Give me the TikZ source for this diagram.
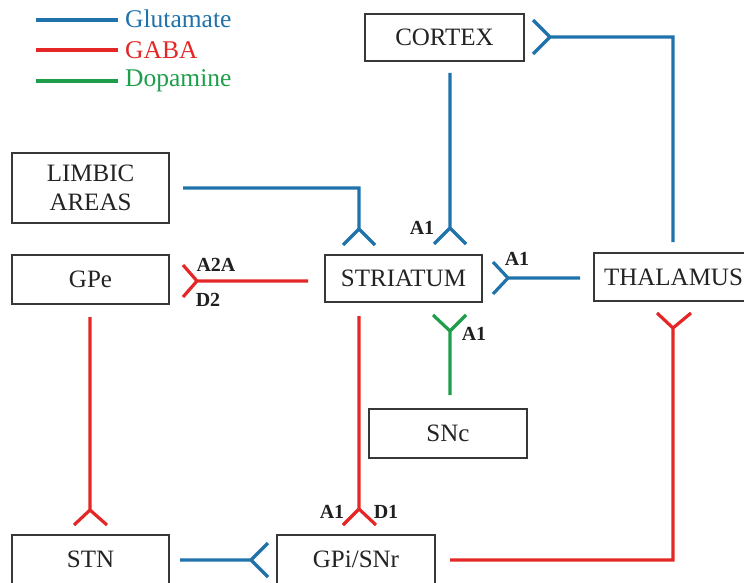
\documentclass[tikz,border=0pt]{standalone}
\usepackage{fontspec}
\setmainfont{Liberation Serif}
\definecolor{glu}{RGB}{31,114,170}
\definecolor{gaba}{RGB}{228,38,38}
\definecolor{dopa}{RGB}{30,158,75}
\definecolor{boxline}{RGB}{55,55,55}
\definecolor{boxtext}{RGB}{35,35,35}
\begin{document}
\begin{tikzpicture}[x=1pt,y=-1pt,
  region/.style={draw=boxline, line width=1.6pt, fill=white, text=boxtext,
    font=\fontsize{25}{29}\selectfont, inner sep=0pt, align=center},
  gluline/.style={draw=glu, line width=3.2pt},
  gabaline/.style={draw=gaba, line width=3.2pt},
  dopaline/.style={draw=dopa, line width=3.2pt},
  lab/.style={font=\fontsize{20}{22}\selectfont\bfseries, text=black!88, inner sep=0pt},
  legtext/.style={font=\fontsize{25.5}{28}\selectfont, inner sep=0pt, anchor=west}
]
\useasboundingbox (0,0) rectangle (744,583);
\clip (0,0) rectangle (744,583);

% legend
\coordinate (lg1a) at (36,20); \coordinate (lg1b) at (118,20);
\coordinate (lg2a) at (36,50); \coordinate (lg2b) at (118,50);
\coordinate (lg3a) at (36,81); \coordinate (lg3b) at (118,81);
\draw[gluline] (lg1a) -- (lg1b);
\draw[gabaline] (lg2a) -- (lg2b);
\draw[dopaline] (lg3a) -- (lg3b);
\node[legtext, text=glu] (lgt1) at (125,19) {Glutamate};
\node[legtext, text=gaba] (lgt2) at (125,50) {GABA};
\node[legtext, text=dopa] (lgt3) at (125,81) {Dopamine};

% boxes
\node[region, minimum width=159pt, minimum height=47pt] (cortex) at (444.5,37.5) {CORTEX};
\node[region, minimum width=157pt, minimum height=70pt] (limbic) at (90.5,188) {LIMBIC\\AREAS};
\node[region, minimum width=157pt, minimum height=49pt] (gpe) at (90.5,279.5) {GPe};
\node[region, minimum width=157pt, minimum height=47pt] (str) at (403.5,278.5) {STRIATUM};
\node[region, minimum width=159pt, minimum height=48pt] (thal) at (673.5,277) {THALAMUS};
\node[region, minimum width=158pt, minimum height=49pt] (snc) at (448,433.5) {SNc};
\node[region, minimum width=157pt, minimum height=49pt] (stn) at (90.5,559.5) {STN};
\node[region, minimum width=158pt, minimum height=49pt] (gpi) at (356,559.5) {GPi/SNr};

% Thalamus -> Cortex
\coordinate (tcS) at (673,242); \coordinate (tcV) at (550,37);
\draw[gluline] (tcS) |- (tcV) -- ++(-17,-17) (tcV) -- ++(-17,17);
% Cortex -> Striatum
\coordinate (csS) at (450,73); \coordinate (csV) at (450,228);
\draw[gluline] (csS) -- (csV) -- ++(-16,16) (csV) -- ++(16,16);
% Limbic -> Striatum
\coordinate (lsS) at (183,188); \coordinate (lsV) at (359,229);
\draw[gluline] (lsS) -| (lsV) -- ++(-16,16) (lsV) -- ++(16,16);
% Thalamus -> Striatum
\coordinate (tsS) at (580,278); \coordinate (tsV) at (508,278);
\draw[gluline] (tsS) -- (tsV) -- ++(-15,-16) (tsV) -- ++(-15,16);
% Striatum -> GPe
\coordinate (sgS) at (308,281); \coordinate (sgV) at (197,281);
\draw[gabaline] (sgS) -- (sgV) -- ++(-14,-16) (sgV) -- ++(-14,16);
% SNc -> Striatum
\coordinate (nsS) at (450,395); \coordinate (nsV) at (450,331);
\draw[dopaline] (nsS) -- (nsV) -- ++(-17,-16) (nsV) -- ++(16,-16);
% GPe -> STN
\coordinate (gsS) at (90,317); \coordinate (gsV) at (90,510);
\draw[gabaline] (gsS) -- (gsV) -- ++(-16,15) (gsV) -- ++(17,15);
% Striatum -> GPi
\coordinate (siS) at (359,316); \coordinate (siV) at (359,509);
\draw[gabaline] (siS) -- (siV) -- ++(-16,16) (siV) -- ++(17,16);
% GPi -> Thalamus
\coordinate (gtS) at (450,560); \coordinate (gtV) at (673,328);
\draw[gabaline] (gtS) -| (gtV) -- ++(-16,-15) (gtV) -- ++(18,-15);
% STN -> GPi
\coordinate (stS) at (180,560); \coordinate (stV) at (251,560);
\draw[gluline] (stS) -- (stV) -- ++(17,-17) (stV) -- ++(17,17);

% receptor labels
\node[lab] (l1) at (422,228) {A1};
\node[lab] (l2) at (517,259) {A1};
\node[lab] (l3) at (216,265) {A2A};
\node[lab] (l4) at (208,300) {D2};
\node[lab] (l5) at (474,334) {A1};
\node[lab] (l6) at (332,512) {A1};
\node[lab] (l7) at (386,512) {D1};
\end{tikzpicture}
\end{document}
